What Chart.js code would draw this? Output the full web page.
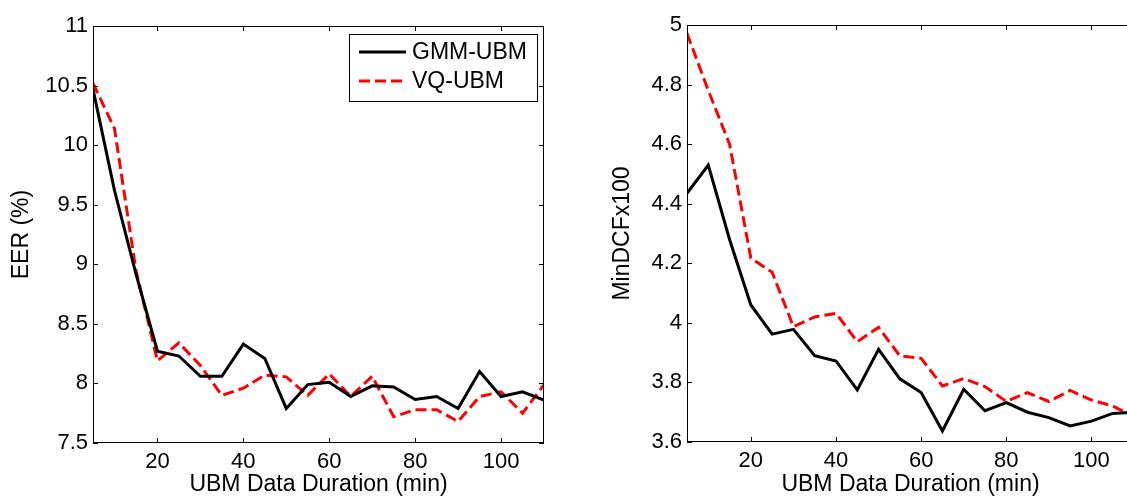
<!DOCTYPE html>
<html>
<head>
<meta charset="utf-8">
<script src="https://cdn.jsdelivr.net/npm/chart.js@4.4.0/dist/chart.umd.min.js"></script>
<style>
  html, body { margin: 0; padding: 0; background: #fff; overflow: hidden; }
  #wrap { position: relative; width: 1127px; height: 497px; overflow: hidden; }
  #eerChart { position: absolute; left: 0; top: 0; }
  #dcfChart { position: absolute; left: 560px; top: 0; }
</style>
</head>
<body>
<div id="wrap">
  <canvas id="eerChart" width="560" height="497"></canvas>
  <canvas id="dcfChart" width="590" height="497"></canvas>
</div>
<script>
// =================== data =======================
const durations = [5, 10, 15, 20, 25, 30, 35, 40, 45, 50, 55, 60, 65, 70, 75, 80, 85, 90, 95, 100, 105, 110];

const eerGMM = [10.47, 9.62, 8.92, 8.27, 8.23, 8.06, 8.06, 8.33, 8.21, 7.79, 7.99, 8.01,
                7.89, 7.98, 7.97, 7.865, 7.89, 7.79, 8.10, 7.89, 7.93, 7.86];
const eerVQ  = [10.52, 10.14, 8.95, 8.19, 8.34, 8.15, 7.90, 7.96, 8.07, 8.055, 7.90, 8.08,
                7.89, 8.06, 7.72, 7.78, 7.78, 7.68, 7.89, 7.93, 7.75, 7.99];

const dcfGMM = [4.435, 4.53, 4.28, 4.06, 3.962, 3.978, 3.89, 3.872, 3.775, 3.911, 3.812, 3.766,
                3.637, 3.777, 3.705, 3.732, 3.70, 3.682, 3.654, 3.67, 3.696, 3.70];
const dcfVQ  = [4.972, 4.78, 4.60, 4.217, 4.17, 3.987, 4.02, 4.032, 3.937, 3.985, 3.889, 3.881,
                3.788, 3.813, 3.786, 3.736, 3.766, 3.736, 3.773, 3.741, 3.721, 3.685];

const xTicks = [20, 40, 60, 80, 100];
const eerTicks = [7.5, 8, 8.5, 9, 9.5, 10, 10.5, 11];
const dcfTicks = [3.6, 3.8, 4, 4.2, 4.4, 4.6, 4.8, 5];
// =================== END data ===================

const FONT = '"Liberation Sans", Arial, Helvetica, sans-serif';
Chart.defaults.font.family = FONT;
Chart.defaults.font.size = 22;
Chart.defaults.color = '#000';

function toPoints(xs, ys) {
    return xs.map((x, i) => ({ x: x, y: ys[i] }));
}

// MATLAB style box with inward ticks on all four sides
const matlabBox = {
    id: 'matlabBox',
    afterDraw(chart) {
        const { ctx, chartArea: a, scales } = chart;
        const len = 5;
        ctx.save();
        ctx.strokeStyle = '#000';
        ctx.lineWidth = 1;
        ctx.setLineDash([]);
        ctx.strokeRect(Math.round(a.left) + 0.5, Math.round(a.top) + 0.5,
                       Math.round(a.width) - 1, Math.round(a.height) - 1);
        ctx.beginPath();
        scales.x.ticks.forEach(t => {
            const px = Math.round(scales.x.getPixelForValue(t.value)) + 0.5;
            ctx.moveTo(px, a.bottom); ctx.lineTo(px, a.bottom - len);
            ctx.moveTo(px, a.top); ctx.lineTo(px, a.top + len);
        });
        scales.y.ticks.forEach(t => {
            const py = Math.round(scales.y.getPixelForValue(t.value)) + 0.5;
            ctx.moveTo(a.left, py); ctx.lineTo(a.left + len, py);
            ctx.moveTo(a.right, py); ctx.lineTo(a.right - len, py);
        });
        ctx.stroke();
        ctx.restore();
    }
};

// boxed legend inside the plot
const boxLegend = {
    id: 'boxLegend',
    afterDraw(chart, args, opts) {
        if (!opts.show) return;
        const ctx = chart.ctx;
        ctx.save();
        ctx.fillStyle = '#fff';
        ctx.fillRect(opts.x, opts.y, opts.w, opts.h);
        ctx.strokeStyle = '#000';
        ctx.lineWidth = 1;
        ctx.strokeRect(opts.x + 0.5, opts.y + 0.5, opts.w, opts.h);
        chart.data.datasets.forEach((ds, i) => {
            const ly = opts.y + opts.first + i * opts.gap;
            ctx.strokeStyle = ds.borderColor;
            ctx.lineWidth = ds.borderWidth;
            ctx.setLineDash(ds.borderDash || []);
            ctx.beginPath();
            ctx.moveTo(opts.x + 10, ly);
            ctx.lineTo(opts.x + 57, ly);
            ctx.stroke();
            ctx.setLineDash([]);
            ctx.fillStyle = '#000';
            ctx.font = '23px ' + FONT;
            ctx.textBaseline = 'middle';
            ctx.fillText(ds.label, opts.x + 63, ly + 1);
        });
        ctx.restore();
    }
};

function fmt(v) {
    return String(parseFloat(v.toFixed(2)));
}

function makeChart(id, gmm, vq, yMin, yMax, yTicks, yTitle, yW, yTitlePad, padTop, xH, legend) {
    const ctx = document.getElementById(id);
    const myChart = new Chart(ctx, {
        type: 'line',
        data: {
            datasets: [
                {
                    label: 'GMM-UBM',
                    data: toPoints(durations, gmm),
                    borderColor: '#000000',
                    borderWidth: 3,
                    pointRadius: 0,
                    tension: 0,
                    fill: false
                },
                {
                    label: 'VQ-UBM',
                    data: toPoints(durations, vq),
                    borderColor: '#ff0000',
                    borderWidth: 3,
                    borderDash: [11, 5],
                    pointRadius: 0,
                    tension: 0,
                    fill: false
                }
            ]
        },
        options: {
            responsive: false,
            animation: false,
            devicePixelRatio: 1,
            layout: { padding: { left: 0, right: 16, top: padTop, bottom: 0 } },
            plugins: {
                legend: { display: false },
                tooltip: { enabled: false },
                boxLegend: legend
            },
            scales: {
                x: {
                    type: 'linear',
                    min: 5,
                    max: 110,
                    afterBuildTicks: s => { s.ticks = xTicks.map(v => ({ value: v })); },
                    afterFit: s => { s.height = xH; },
                    grid: { display: false, drawTicks: false },
                    border: { display: false },
                    ticks: { autoSkip: false, maxRotation: 0, padding: 6, callback: v => fmt(v) },
                    title: { display: true, text: 'UBM Data Duration (min)', font: { size: 23 },
                             padding: { top: 0, bottom: -1 } }
                },
                y: {
                    type: 'linear',
                    min: yMin,
                    max: yMax,
                    afterBuildTicks: s => { s.ticks = yTicks.map(v => ({ value: v })); },
                    afterFit: s => { s.width = yW; },
                    grid: { display: false, drawTicks: false },
                    border: { display: false },
                    ticks: { autoSkip: false, padding: 5, callback: v => fmt(v) },
                    title: { display: true, text: yTitle, font: { size: 23 },
                             padding: { top: yTitlePad, bottom: 0 } }
                }
            }
        },
        plugins: [matlabBox, boxLegend]
    });
    return myChart;
}

makeChart('eerChart', eerGMM, eerVQ, 7.5, 11, eerTicks, 'EER (%)', 93, 8, 26, 54,
    { show: true, x: 349, y: 34, w: 188, h: 67, first: 18, gap: 29 });
makeChart('dcfChart', dcfGMM, dcfVQ, 3.6, 5, dcfTicks, 'MinDCFx100', 127, 49, 25, 55,
    { show: false });
</script>
</body>
</html>
